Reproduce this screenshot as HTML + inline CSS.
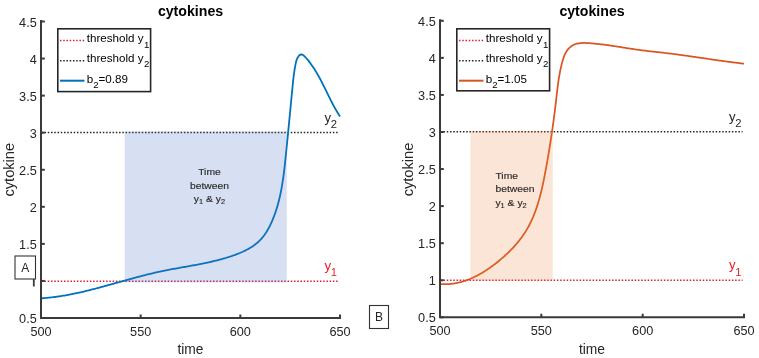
<!DOCTYPE html>
<html><head><meta charset="utf-8"><style>
html,body{margin:0;padding:0;background:#fff;width:759px;height:358px;overflow:hidden}
svg{display:block;will-change:transform;filter:blur(0.3px)}
text{font-family:"Liberation Sans",sans-serif}
</style></head><body>
<svg width="759" height="358" viewBox="0 0 759 358">
<rect width="759" height="358" fill="#fff"/>
<line x1="41.30" y1="281.34" x2="338.50" y2="281.34" stroke="#d8203e" stroke-width="1.5" stroke-dasharray="1.5 1.74"/>
<line x1="41.30" y1="132.49" x2="338.50" y2="132.49" stroke="#262626" stroke-width="1.5" stroke-dasharray="1.5 1.74"/>
<path d="M41.07,298.33 L42.31,298.24 L43.55,298.16 L44.78,298.06 L46.02,297.95 L47.25,297.84 L48.48,297.72 L49.72,297.59 L50.95,297.46 L52.18,297.31 L53.41,297.16 L54.64,297.01 L55.86,296.84 L57.09,296.67 L58.31,296.50 L59.54,296.32 L60.76,296.13 L61.99,295.93 L63.21,295.73 L64.43,295.52 L65.65,295.31 L66.87,295.09 L68.09,294.87 L69.31,294.64 L70.52,294.40 L71.74,294.16 L72.95,293.92 L74.17,293.67 L75.38,293.42 L76.60,293.16 L77.81,292.89 L79.02,292.63 L80.24,292.35 L81.45,292.08 L82.66,291.80 L83.87,291.51 L85.08,291.23 L86.29,290.94 L87.50,290.64 L88.71,290.34 L89.91,290.04 L91.12,289.74 L92.33,289.43 L93.54,289.12 L94.74,288.81 L95.95,288.50 L97.16,288.18 L98.36,287.86 L99.57,287.54 L100.77,287.21 L101.98,286.89 L103.18,286.56 L104.38,286.23 L105.59,285.90 L106.79,285.57 L108.00,285.24 L109.20,284.91 L110.40,284.57 L111.61,284.23 L112.81,283.90 L114.01,283.56 L115.21,283.22 L116.42,282.89 L117.62,282.55 L118.82,282.21 L120.03,281.87 L121.23,281.54 L122.43,281.20 L123.63,280.86 L124.84,280.53 L126.04,280.19 L127.24,279.86 L128.45,279.52 L129.65,279.19 L130.85,278.86 L132.06,278.53 L133.26,278.20 L134.47,277.87 L135.67,277.55 L136.88,277.23 L138.08,276.90 L139.29,276.59 L140.49,276.27 L141.70,275.95 L142.90,275.64 L144.11,275.33 L145.32,275.03 L146.52,274.72 L147.73,274.42 L148.94,274.13 L150.15,273.83 L151.36,273.54 L152.57,273.26 L153.78,272.97 L154.99,272.69 L156.20,272.42 L157.41,272.15 L158.63,271.88 L159.84,271.62 L161.05,271.36 L162.27,271.11 L163.48,270.86 L164.70,270.61 L165.91,270.37 L167.13,270.13 L168.34,269.90 L169.56,269.66 L170.78,269.43 L172.00,269.20 L173.22,268.98 L174.43,268.76 L175.65,268.53 L176.87,268.31 L178.09,268.09 L179.31,267.88 L180.53,267.66 L181.75,267.44 L182.97,267.22 L184.19,267.01 L185.41,266.79 L186.63,266.57 L187.85,266.36 L189.07,266.14 L190.29,265.92 L191.51,265.70 L192.73,265.47 L193.95,265.25 L195.17,265.02 L196.39,264.79 L197.61,264.56 L198.83,264.33 L200.05,264.09 L201.27,263.85 L202.49,263.61 L203.71,263.36 L204.93,263.11 L206.14,262.85 L207.36,262.59 L208.58,262.33 L209.79,262.06 L211.01,261.78 L212.22,261.50 L213.44,261.21 L214.65,260.92 L215.87,260.62 L217.08,260.32 L218.29,260.01 L219.50,259.69 L220.71,259.37 L221.92,259.04 L223.13,258.70 L224.34,258.35 L225.55,258.00 L226.76,257.63 L227.96,257.26 L229.17,256.88 L230.37,256.49 L231.57,256.09 L232.77,255.69 L233.97,255.27 L235.17,254.84 L236.36,254.40 L237.54,253.94 L238.72,253.48 L239.89,253.00 L241.05,252.50 L242.21,252.00 L243.35,251.47 L244.49,250.94 L245.61,250.38 L246.72,249.81 L247.82,249.22 L248.90,248.61 L249.97,247.98 L251.03,247.34 L252.06,246.67 L253.08,245.99 L254.08,245.28 L255.06,244.55 L256.03,243.80 L256.97,243.02 L257.89,242.22 L258.78,241.40 L259.66,240.56 L260.51,239.68 L261.33,238.79 L262.13,237.86 L262.91,236.92 L263.67,235.95 L264.40,234.97 L265.11,233.96 L265.80,232.94 L266.47,231.90 L267.13,230.84 L267.76,229.77 L268.37,228.68 L268.97,227.58 L269.55,226.47 L270.11,225.35 L270.65,224.22 L271.18,223.08 L271.70,221.93 L272.20,220.78 L272.69,219.62 L273.16,218.46 L273.62,217.29 L274.07,216.13 L274.51,214.95 L274.93,213.78 L275.34,212.60 L275.74,211.43 L276.13,210.24 L276.51,209.06 L276.88,207.87 L277.24,206.68 L277.58,205.49 L277.92,204.30 L278.25,203.10 L278.56,201.90 L278.87,200.70 L279.17,199.50 L279.46,198.29 L279.74,197.08 L280.01,195.87 L280.28,194.66 L280.54,193.45 L280.78,192.23 L281.03,191.02 L281.26,189.80 L281.49,188.58 L281.71,187.35 L281.92,186.13 L282.13,184.91 L282.33,183.68 L282.53,182.45 L282.72,181.22 L282.90,179.99 L283.08,178.76 L283.26,177.53 L283.43,176.29 L283.59,175.06 L283.75,173.82 L283.91,172.59 L284.06,171.35 L284.22,170.11 L284.36,168.87 L284.51,167.63 L284.65,166.39 L284.79,165.15 L284.93,163.91 L285.06,162.66 L285.19,161.42 L285.33,160.18 L285.46,158.93 L285.58,157.69 L285.71,156.45 L285.84,155.20 L285.97,153.96 L286.10,152.71 L286.22,151.47 L286.35,150.23 L286.47,148.98 L286.60,147.74 L286.73,146.49 L286.85,145.25 L286.98,144.01 L287.10,142.76 L287.22,141.52 L287.35,140.27 L287.47,139.03 L287.59,137.79 L287.72,136.55 L287.84,135.30 L287.96,134.06 L288.08,132.82 L288.20,131.58 L288.33,130.33 L288.45,129.09 L288.57,127.85 L288.69,126.61 L288.81,125.37 L288.93,124.13 L289.05,122.89 L289.17,121.65 L289.29,120.41 L289.41,119.18 L289.53,117.94 L289.65,116.70 L289.77,115.46 L289.89,114.23 L290.01,112.99 L290.13,111.76 L290.25,110.52 L290.37,109.29 L290.48,108.06 L290.60,106.83 L290.72,105.60 L290.84,104.37 L290.96,103.14 L291.08,101.91 L291.20,100.68 L291.32,99.45 L291.44,98.22 L291.56,97.00 L291.68,95.77 L291.79,94.55 L291.91,93.33 L292.03,92.11 L292.15,90.89 L292.27,89.67 L292.39,88.45 L292.51,87.23 L292.63,86.01 L292.75,84.80 L292.87,83.58 L293.00,82.36 L293.12,81.14 L293.25,79.92 L293.39,78.69 L293.53,77.46 L293.68,76.22 L293.83,74.97 L294.00,73.72 L294.17,72.45 L294.36,71.17 L294.55,69.88 L294.76,68.57 L294.99,67.25 L295.23,65.92 L295.48,64.56 L295.76,63.20 L296.08,61.85 L296.45,60.53 L296.89,59.25 L297.42,58.04 L298.04,56.91 L298.76,55.91 L299.55,55.11 L300.37,54.63 L301.22,54.49 L302.07,54.65 L302.93,55.06 L303.79,55.67 L304.65,56.44 L305.51,57.32 L306.34,58.26 L307.17,59.22 L307.97,60.19 L308.76,61.17 L309.53,62.15 L310.29,63.15 L311.03,64.16 L311.76,65.18 L312.48,66.20 L313.18,67.24 L313.87,68.28 L314.54,69.33 L315.21,70.39 L315.86,71.45 L316.51,72.52 L317.14,73.60 L317.77,74.68 L318.38,75.76 L318.99,76.86 L319.59,77.95 L320.18,79.05 L320.77,80.16 L321.35,81.27 L321.92,82.38 L322.49,83.49 L323.06,84.61 L323.62,85.73 L324.18,86.85 L324.73,87.97 L325.29,89.09 L325.84,90.22 L326.39,91.34 L326.94,92.46 L327.49,93.59 L328.04,94.71 L328.59,95.83 L329.15,96.95 L329.70,98.07 L330.26,99.18 L330.82,100.30 L331.39,101.41 L331.96,102.52 L332.53,103.62 L333.11,104.72 L333.70,105.81 L334.29,106.90 L334.89,107.99 L335.50,109.07 L336.11,110.14 L336.74,111.21 L337.37,112.27 L338.02,113.33 L338.67,114.37 L339.34,115.41 L340.01,116.44" fill="none" stroke="#0072BD" stroke-width="1.80" stroke-linejoin="round"/>
<rect x="124.70" y="131.49" width="162.10" height="150.91" fill="rgba(68,114,196,0.22)" />
<path d="M41.0,21.0 V318.0 H340.0" fill="none" stroke="#3a3a3a" stroke-width="2" stroke-linejoin="miter" stroke-linecap="square"/>
<line x1="41.00" y1="318.00" x2="41.00" y2="314.50" stroke="#3a3a3a" stroke-width="2"/>
<text transform="translate(41.00,335.80) scale(1.060,1)" text-anchor="middle" style="font-family:'Liberation Sans',sans-serif;font-size:12.00px;font-weight:normal" fill="#262626">500</text>
<line x1="140.67" y1="318.00" x2="140.67" y2="314.50" stroke="#3a3a3a" stroke-width="2"/>
<text transform="translate(140.67,335.80) scale(1.060,1)" text-anchor="middle" style="font-family:'Liberation Sans',sans-serif;font-size:12.00px;font-weight:normal" fill="#262626">550</text>
<line x1="240.33" y1="318.00" x2="240.33" y2="314.50" stroke="#3a3a3a" stroke-width="2"/>
<text transform="translate(240.33,335.80) scale(1.060,1)" text-anchor="middle" style="font-family:'Liberation Sans',sans-serif;font-size:12.00px;font-weight:normal" fill="#262626">600</text>
<line x1="340.00" y1="318.00" x2="340.00" y2="314.50" stroke="#3a3a3a" stroke-width="2"/>
<text transform="translate(340.00,335.80) scale(1.060,1)" text-anchor="middle" style="font-family:'Liberation Sans',sans-serif;font-size:12.00px;font-weight:normal" fill="#262626">650</text>
<line x1="41.00" y1="318.00" x2="44.80" y2="318.00" stroke="#3a3a3a" stroke-width="2"/>
<text transform="translate(36.80,323.00) scale(1.060,1)" text-anchor="end" style="font-family:'Liberation Sans',sans-serif;font-size:12.00px;font-weight:normal" fill="#262626">0.5</text>
<line x1="41.00" y1="280.94" x2="44.80" y2="280.94" stroke="#3a3a3a" stroke-width="2"/>
<rect x="32.9" y="279" width="1.8" height="7.5" fill="#3a3a3a"/>
<line x1="41.00" y1="243.88" x2="44.80" y2="243.88" stroke="#3a3a3a" stroke-width="2"/>
<text transform="translate(36.80,248.88) scale(1.060,1)" text-anchor="end" style="font-family:'Liberation Sans',sans-serif;font-size:12.00px;font-weight:normal" fill="#262626">1.5</text>
<line x1="41.00" y1="206.81" x2="44.80" y2="206.81" stroke="#3a3a3a" stroke-width="2"/>
<text transform="translate(36.80,211.81) scale(1.060,1)" text-anchor="end" style="font-family:'Liberation Sans',sans-serif;font-size:12.00px;font-weight:normal" fill="#262626">2</text>
<line x1="41.00" y1="169.75" x2="44.80" y2="169.75" stroke="#3a3a3a" stroke-width="2"/>
<text transform="translate(36.80,174.75) scale(1.060,1)" text-anchor="end" style="font-family:'Liberation Sans',sans-serif;font-size:12.00px;font-weight:normal" fill="#262626">2.5</text>
<line x1="41.00" y1="132.69" x2="44.80" y2="132.69" stroke="#3a3a3a" stroke-width="2"/>
<text transform="translate(36.80,137.69) scale(1.060,1)" text-anchor="end" style="font-family:'Liberation Sans',sans-serif;font-size:12.00px;font-weight:normal" fill="#262626">3</text>
<line x1="41.00" y1="95.62" x2="44.80" y2="95.62" stroke="#3a3a3a" stroke-width="2"/>
<text transform="translate(36.80,100.62) scale(1.060,1)" text-anchor="end" style="font-family:'Liberation Sans',sans-serif;font-size:12.00px;font-weight:normal" fill="#262626">3.5</text>
<line x1="41.00" y1="58.56" x2="44.80" y2="58.56" stroke="#3a3a3a" stroke-width="2"/>
<text transform="translate(36.80,63.56) scale(1.060,1)" text-anchor="end" style="font-family:'Liberation Sans',sans-serif;font-size:12.00px;font-weight:normal" fill="#262626">4</text>
<line x1="41.00" y1="21.50" x2="44.80" y2="21.50" stroke="#3a3a3a" stroke-width="2"/>
<text transform="translate(36.80,26.50) scale(1.060,1)" text-anchor="end" style="font-family:'Liberation Sans',sans-serif;font-size:12.00px;font-weight:normal" fill="#262626">4.5</text>
<text transform="translate(190.50,16.00) scale(1.010,1)" text-anchor="middle" style="font-family:'Liberation Sans',sans-serif;font-size:14.00px;font-weight:bold" fill="#000">cytokines</text>
<text transform="translate(190.50,354.30)" text-anchor="middle" style="font-family:'Liberation Sans',sans-serif;font-size:13.80px;font-weight:normal" fill="#262626">time</text>
<text transform="translate(14.20,169.75) rotate(-90) scale(1.045,1)" text-anchor="middle" style="font-family:'Liberation Sans',sans-serif;font-size:14.00px;font-weight:normal" fill="#262626">cytokine</text>
<text transform="translate(324.50,121.89) scale(1.080,1)" text-anchor="start" style="font-family:'Liberation Sans',sans-serif;font-size:12.20px;font-weight:normal" fill="#262626">y<tspan dx="-0.2" dy="6.1" style="font-size:10.4px">2</tspan></text>
<text transform="translate(324.50,270.14) scale(1.080,1)" text-anchor="start" style="font-family:'Liberation Sans',sans-serif;font-size:12.20px;font-weight:normal" fill="#e8202a">y<tspan dx="-0.2" dy="6.1" style="font-size:10.4px">1</tspan></text>
<rect x="57.80" y="28.80" width="92.80" height="62.80" fill="#fff" stroke="#262626" stroke-width="1.6"/>
<line x1="60.00" y1="40.40" x2="84.50" y2="40.40" stroke="#d8203e" stroke-width="1.5" stroke-dasharray="1.5 1.74"/>
<line x1="60.00" y1="60.70" x2="84.50" y2="60.70" stroke="#262626" stroke-width="1.5" stroke-dasharray="1.5 1.74"/>
<line x1="60.00" y1="80.70" x2="84.50" y2="80.70" stroke="#0072BD" stroke-width="2"/>
<text transform="translate(86.70,41.70) scale(1.040,1)" text-anchor="start" style="font-family:'Liberation Sans',sans-serif;font-size:11.20px;font-weight:normal" fill="#000">threshold y<tspan dx="0.3" dy="6.1" style="font-size:9.3px">1</tspan><tspan dy="-6.1"></tspan></text>
<text transform="translate(86.70,61.90) scale(1.040,1)" text-anchor="start" style="font-family:'Liberation Sans',sans-serif;font-size:11.20px;font-weight:normal" fill="#000">threshold y<tspan dx="0.3" dy="5.5" style="font-size:9.3px">2</tspan><tspan dy="-5.5"></tspan></text>
<text transform="translate(86.70,82.60) scale(1.040,1)" text-anchor="start" style="font-family:'Liberation Sans',sans-serif;font-size:11.20px;font-weight:normal" fill="#000">b<tspan dx="0.0" dy="5.7" style="font-size:9.3px">2</tspan><tspan dy="-5.7">=0.89</tspan></text>
<line x1="440.30" y1="280.24" x2="742.50" y2="280.24" stroke="#d8203e" stroke-width="1.5" stroke-dasharray="1.5 1.74"/>
<line x1="440.30" y1="131.79" x2="742.50" y2="131.79" stroke="#262626" stroke-width="1.5" stroke-dasharray="1.5 1.74"/>
<path d="M440.44,284.09 L441.67,284.16 L442.90,284.20 L444.12,284.22 L445.33,284.22 L446.53,284.19 L447.73,284.14 L448.93,284.07 L450.11,283.97 L451.29,283.85 L452.47,283.71 L453.64,283.55 L454.80,283.37 L455.96,283.16 L457.11,282.93 L458.25,282.69 L459.39,282.42 L460.52,282.14 L461.65,281.83 L462.77,281.51 L463.88,281.17 L464.99,280.81 L466.10,280.43 L467.19,280.04 L468.29,279.63 L469.37,279.20 L470.45,278.75 L471.53,278.29 L472.60,277.82 L473.66,277.33 L474.72,276.82 L475.77,276.30 L476.82,275.77 L477.86,275.22 L478.90,274.66 L479.93,274.09 L480.95,273.50 L481.97,272.90 L482.98,272.29 L483.99,271.67 L485.00,271.04 L486.00,270.39 L486.99,269.74 L487.98,269.08 L488.96,268.40 L489.94,267.72 L490.91,267.03 L491.88,266.33 L492.84,265.62 L493.79,264.90 L494.75,264.18 L495.69,263.45 L496.63,262.71 L497.57,261.96 L498.50,261.21 L499.43,260.45 L500.35,259.69 L501.26,258.92 L502.17,258.14 L503.07,257.36 L503.97,256.56 L504.86,255.77 L505.74,254.96 L506.61,254.15 L507.48,253.33 L508.34,252.51 L509.19,251.67 L510.03,250.84 L510.87,249.99 L511.70,249.14 L512.51,248.28 L513.32,247.41 L514.12,246.54 L514.91,245.66 L515.70,244.77 L516.47,243.88 L517.23,242.97 L517.98,242.07 L518.73,241.15 L519.46,240.23 L520.18,239.30 L520.89,238.36 L521.59,237.42 L522.28,236.47 L522.95,235.51 L523.62,234.54 L524.27,233.57 L524.91,232.59 L525.54,231.60 L526.15,230.61 L526.76,229.61 L527.35,228.60 L527.92,227.58 L528.49,226.56 L529.04,225.53 L529.59,224.49 L530.11,223.45 L530.63,222.40 L531.14,221.35 L531.64,220.28 L532.12,219.22 L532.59,218.14 L533.06,217.07 L533.51,215.98 L533.96,214.89 L534.39,213.80 L534.81,212.70 L535.23,211.60 L535.63,210.49 L536.03,209.38 L536.42,208.26 L536.80,207.14 L537.17,206.01 L537.53,204.88 L537.89,203.75 L538.23,202.61 L538.57,201.47 L538.91,200.33 L539.23,199.19 L539.55,198.04 L539.86,196.88 L540.17,195.73 L540.47,194.57 L540.76,193.41 L541.05,192.25 L541.33,191.09 L541.61,189.92 L541.88,188.76 L542.15,187.59 L542.41,186.42 L542.67,185.25 L542.92,184.08 L543.17,182.90 L543.41,181.73 L543.65,180.55 L543.89,179.38 L544.13,178.20 L544.36,177.03 L544.59,175.85 L544.81,174.68 L545.03,173.50 L545.26,172.33 L545.48,171.15 L545.69,169.98 L545.91,168.81 L546.12,167.64 L546.34,166.46 L546.55,165.30 L546.76,164.13 L546.97,162.96 L547.17,161.79 L547.38,160.62 L547.58,159.46 L547.78,158.29 L547.98,157.13 L548.18,155.96 L548.38,154.80 L548.58,153.63 L548.77,152.47 L548.97,151.31 L549.16,150.15 L549.35,148.99 L549.54,147.82 L549.73,146.66 L549.91,145.50 L550.10,144.34 L550.28,143.18 L550.46,142.02 L550.64,140.86 L550.82,139.70 L551.00,138.54 L551.18,137.38 L551.35,136.22 L551.52,135.06 L551.70,133.90 L551.87,132.74 L552.04,131.58 L552.21,130.41 L552.37,129.25 L552.54,128.09 L552.70,126.93 L552.86,125.77 L553.03,124.61 L553.19,123.44 L553.35,122.28 L553.50,121.12 L553.66,119.95 L553.82,118.79 L553.97,117.62 L554.12,116.45 L554.27,115.29 L554.42,114.12 L554.57,112.95 L554.72,111.78 L554.87,110.61 L555.01,109.44 L555.16,108.27 L555.30,107.10 L555.44,105.93 L555.58,104.75 L555.72,103.58 L555.86,102.40 L555.99,101.23 L556.13,100.05 L556.26,98.87 L556.40,97.69 L556.53,96.51 L556.66,95.32 L556.80,94.14 L556.93,92.96 L557.07,91.77 L557.21,90.59 L557.35,89.40 L557.50,88.22 L557.64,87.03 L557.79,85.84 L557.95,84.66 L558.11,83.47 L558.27,82.28 L558.44,81.10 L558.62,79.91 L558.80,78.73 L558.99,77.54 L559.19,76.35 L559.39,75.17 L559.60,73.98 L559.82,72.80 L560.05,71.62 L560.29,70.43 L560.54,69.25 L560.79,68.07 L561.06,66.89 L561.34,65.71 L561.63,64.54 L561.94,63.36 L562.25,62.18 L562.58,61.01 L562.92,59.84 L563.28,58.68 L563.67,57.53 L564.07,56.40 L564.51,55.30 L564.98,54.22 L565.49,53.17 L566.03,52.16 L566.61,51.20 L567.25,50.28 L567.92,49.40 L568.64,48.58 L569.40,47.81 L570.20,47.09 L571.05,46.43 L571.93,45.82 L572.85,45.27 L573.81,44.78 L574.80,44.36 L575.83,43.99 L576.89,43.69 L577.99,43.44 L579.11,43.26 L580.26,43.12 L581.43,43.03 L582.62,42.97 L583.82,42.96 L585.04,42.97 L586.26,43.01 L587.49,43.07 L588.72,43.14 L589.95,43.23 L591.17,43.32 L592.39,43.42 L593.61,43.53 L594.83,43.64 L596.04,43.76 L597.25,43.88 L598.45,44.01 L599.65,44.15 L600.85,44.29 L602.05,44.43 L603.24,44.58 L604.43,44.73 L605.62,44.89 L606.81,45.05 L607.99,45.21 L609.17,45.38 L610.35,45.55 L611.53,45.72 L612.71,45.90 L613.88,46.07 L615.06,46.25 L616.23,46.43 L617.40,46.61 L618.57,46.79 L619.73,46.98 L620.90,47.16 L622.07,47.35 L623.23,47.53 L624.40,47.72 L625.56,47.90 L626.73,48.08 L627.89,48.27 L629.05,48.45 L630.22,48.63 L631.38,48.81 L632.54,48.98 L633.71,49.16 L634.87,49.33 L636.04,49.50 L637.20,49.67 L638.37,49.83 L639.54,49.99 L640.71,50.15 L641.87,50.30 L643.04,50.45 L644.22,50.60 L645.39,50.74 L646.56,50.88 L647.74,51.02 L648.91,51.16 L650.09,51.29 L651.26,51.42 L652.44,51.56 L653.61,51.69 L654.79,51.82 L655.97,51.95 L657.15,52.08 L658.32,52.20 L659.50,52.33 L660.68,52.47 L661.86,52.60 L663.03,52.73 L664.21,52.86 L665.39,53.00 L666.57,53.14 L667.74,53.28 L668.92,53.42 L670.10,53.56 L671.27,53.71 L672.45,53.85 L673.62,54.00 L674.80,54.16 L675.97,54.31 L677.15,54.46 L678.32,54.62 L679.50,54.78 L680.67,54.94 L681.84,55.10 L683.02,55.26 L684.19,55.42 L685.36,55.59 L686.54,55.75 L687.71,55.92 L688.88,56.09 L690.06,56.26 L691.23,56.43 L692.40,56.60 L693.57,56.77 L694.74,56.94 L695.92,57.11 L697.09,57.28 L698.26,57.45 L699.43,57.63 L700.60,57.80 L701.77,57.97 L702.95,58.14 L704.12,58.32 L705.29,58.49 L706.46,58.66 L707.63,58.83 L708.80,59.01 L709.98,59.18 L711.15,59.35 L712.32,59.52 L713.49,59.69 L714.66,59.86 L715.84,60.03 L717.01,60.20 L718.18,60.36 L719.35,60.53 L720.53,60.69 L721.70,60.86 L722.87,61.02 L724.04,61.18 L725.22,61.34 L726.39,61.50 L727.56,61.66 L728.74,61.81 L729.91,61.97 L731.09,62.12 L732.26,62.27 L733.43,62.42 L734.61,62.56 L735.78,62.71 L736.96,62.85 L738.14,62.99 L739.31,63.13 L740.49,63.26 L741.66,63.40 L742.84,63.53 L744.02,63.65" fill="none" stroke="#DA5620" stroke-width="1.75" stroke-linejoin="round"/>
<rect x="470.40" y="130.79" width="82.40" height="150.01" fill="rgba(237,125,49,0.2)" />
<path d="M440.0,20.3 V317.3 H744.0" fill="none" stroke="#3a3a3a" stroke-width="2" stroke-linejoin="miter" stroke-linecap="square"/>
<line x1="440.00" y1="317.30" x2="440.00" y2="313.80" stroke="#3a3a3a" stroke-width="2"/>
<text transform="translate(440.00,335.10) scale(1.060,1)" text-anchor="middle" style="font-family:'Liberation Sans',sans-serif;font-size:12.00px;font-weight:normal" fill="#262626">500</text>
<line x1="541.33" y1="317.30" x2="541.33" y2="313.80" stroke="#3a3a3a" stroke-width="2"/>
<text transform="translate(541.33,335.10) scale(1.060,1)" text-anchor="middle" style="font-family:'Liberation Sans',sans-serif;font-size:12.00px;font-weight:normal" fill="#262626">550</text>
<line x1="642.67" y1="317.30" x2="642.67" y2="313.80" stroke="#3a3a3a" stroke-width="2"/>
<text transform="translate(642.67,335.10) scale(1.060,1)" text-anchor="middle" style="font-family:'Liberation Sans',sans-serif;font-size:12.00px;font-weight:normal" fill="#262626">600</text>
<line x1="744.00" y1="317.30" x2="744.00" y2="313.80" stroke="#3a3a3a" stroke-width="2"/>
<text transform="translate(744.00,335.10) scale(1.060,1)" text-anchor="middle" style="font-family:'Liberation Sans',sans-serif;font-size:12.00px;font-weight:normal" fill="#262626">650</text>
<line x1="440.00" y1="317.30" x2="443.80" y2="317.30" stroke="#3a3a3a" stroke-width="2"/>
<text transform="translate(435.80,322.30) scale(1.060,1)" text-anchor="end" style="font-family:'Liberation Sans',sans-serif;font-size:12.00px;font-weight:normal" fill="#262626">0.5</text>
<line x1="440.00" y1="280.24" x2="443.80" y2="280.24" stroke="#3a3a3a" stroke-width="2"/>
<text transform="translate(435.80,285.24) scale(1.060,1)" text-anchor="end" style="font-family:'Liberation Sans',sans-serif;font-size:12.00px;font-weight:normal" fill="#262626">1</text>
<line x1="440.00" y1="243.18" x2="443.80" y2="243.18" stroke="#3a3a3a" stroke-width="2"/>
<text transform="translate(435.80,248.18) scale(1.060,1)" text-anchor="end" style="font-family:'Liberation Sans',sans-serif;font-size:12.00px;font-weight:normal" fill="#262626">1.5</text>
<line x1="440.00" y1="206.11" x2="443.80" y2="206.11" stroke="#3a3a3a" stroke-width="2"/>
<text transform="translate(435.80,211.11) scale(1.060,1)" text-anchor="end" style="font-family:'Liberation Sans',sans-serif;font-size:12.00px;font-weight:normal" fill="#262626">2</text>
<line x1="440.00" y1="169.05" x2="443.80" y2="169.05" stroke="#3a3a3a" stroke-width="2"/>
<text transform="translate(435.80,174.05) scale(1.060,1)" text-anchor="end" style="font-family:'Liberation Sans',sans-serif;font-size:12.00px;font-weight:normal" fill="#262626">2.5</text>
<line x1="440.00" y1="131.99" x2="443.80" y2="131.99" stroke="#3a3a3a" stroke-width="2"/>
<text transform="translate(435.80,136.99) scale(1.060,1)" text-anchor="end" style="font-family:'Liberation Sans',sans-serif;font-size:12.00px;font-weight:normal" fill="#262626">3</text>
<line x1="440.00" y1="94.93" x2="443.80" y2="94.93" stroke="#3a3a3a" stroke-width="2"/>
<text transform="translate(435.80,99.93) scale(1.060,1)" text-anchor="end" style="font-family:'Liberation Sans',sans-serif;font-size:12.00px;font-weight:normal" fill="#262626">3.5</text>
<line x1="440.00" y1="57.86" x2="443.80" y2="57.86" stroke="#3a3a3a" stroke-width="2"/>
<text transform="translate(435.80,62.86) scale(1.060,1)" text-anchor="end" style="font-family:'Liberation Sans',sans-serif;font-size:12.00px;font-weight:normal" fill="#262626">4</text>
<line x1="440.00" y1="20.80" x2="443.80" y2="20.80" stroke="#3a3a3a" stroke-width="2"/>
<text transform="translate(435.80,25.80) scale(1.060,1)" text-anchor="end" style="font-family:'Liberation Sans',sans-serif;font-size:12.00px;font-weight:normal" fill="#262626">4.5</text>
<text transform="translate(592.00,16.00) scale(1.010,1)" text-anchor="middle" style="font-family:'Liberation Sans',sans-serif;font-size:14.00px;font-weight:bold" fill="#000">cytokines</text>
<text transform="translate(592.00,354.30)" text-anchor="middle" style="font-family:'Liberation Sans',sans-serif;font-size:13.80px;font-weight:normal" fill="#262626">time</text>
<text transform="translate(412.50,169.55) rotate(-90) scale(1.045,1)" text-anchor="middle" style="font-family:'Liberation Sans',sans-serif;font-size:14.00px;font-weight:normal" fill="#262626">cytokine</text>
<text transform="translate(729.00,121.19) scale(1.080,1)" text-anchor="start" style="font-family:'Liberation Sans',sans-serif;font-size:12.20px;font-weight:normal" fill="#262626">y<tspan dx="-0.2" dy="6.1" style="font-size:10.4px">2</tspan></text>
<text transform="translate(729.00,269.44) scale(1.080,1)" text-anchor="start" style="font-family:'Liberation Sans',sans-serif;font-size:12.20px;font-weight:normal" fill="#e8202a">y<tspan dx="-0.2" dy="6.1" style="font-size:10.4px">1</tspan></text>
<rect x="456.80" y="28.80" width="92.80" height="62.00" fill="#fff" stroke="#262626" stroke-width="1.6"/>
<line x1="459.00" y1="40.40" x2="483.50" y2="40.40" stroke="#d8203e" stroke-width="1.5" stroke-dasharray="1.5 1.74"/>
<line x1="459.00" y1="60.70" x2="483.50" y2="60.70" stroke="#262626" stroke-width="1.5" stroke-dasharray="1.5 1.74"/>
<line x1="459.00" y1="80.70" x2="483.50" y2="80.70" stroke="#DA5620" stroke-width="2"/>
<text transform="translate(485.70,41.70) scale(1.040,1)" text-anchor="start" style="font-family:'Liberation Sans',sans-serif;font-size:11.20px;font-weight:normal" fill="#000">threshold y<tspan dx="0.3" dy="6.1" style="font-size:9.3px">1</tspan><tspan dy="-6.1"></tspan></text>
<text transform="translate(485.70,61.90) scale(1.040,1)" text-anchor="start" style="font-family:'Liberation Sans',sans-serif;font-size:11.20px;font-weight:normal" fill="#000">threshold y<tspan dx="0.3" dy="5.5" style="font-size:9.3px">2</tspan><tspan dy="-5.5"></tspan></text>
<text transform="translate(485.70,82.60) scale(1.040,1)" text-anchor="start" style="font-family:'Liberation Sans',sans-serif;font-size:11.20px;font-weight:normal" fill="#000">b<tspan dx="0.0" dy="5.7" style="font-size:9.3px">2</tspan><tspan dy="-5.7">=1.05</tspan></text>
<rect x="15.00" y="256.00" width="20.50" height="23.00" fill="#fff" stroke="#333" stroke-width="1.1"/><text transform="translate(25.25,271.80)" text-anchor="middle" style="font-family:'Liberation Sans',sans-serif;font-size:12.00px;font-weight:normal" fill="#262626">A</text>
<rect x="369.50" y="305.50" width="19.00" height="23.00" fill="#fff" stroke="#333" stroke-width="1.1"/><text transform="translate(379.00,321.30)" text-anchor="middle" style="font-family:'Liberation Sans',sans-serif;font-size:12.00px;font-weight:normal" fill="#262626">B</text>
<text transform="translate(209.50,175.00) scale(1.060,1)" text-anchor="middle" style="font-family:'Liberation Sans',sans-serif;font-size:9.80px;font-weight:normal" fill="#2a2a2a" stroke="#2a2a2a" stroke-width="0.15">Time</text><text transform="translate(209.50,188.80) scale(1.060,1)" text-anchor="middle" style="font-family:'Liberation Sans',sans-serif;font-size:9.80px;font-weight:normal" fill="#2a2a2a" stroke="#2a2a2a" stroke-width="0.15">between</text><text transform="translate(209.50,202.20) scale(1.060,1)" text-anchor="middle" style="font-family:'Liberation Sans',sans-serif;font-size:9.80px;font-weight:normal" fill="#2a2a2a" stroke="#2a2a2a" stroke-width="0.15">y<tspan dy="1.5" style="font-size:7px">1</tspan><tspan dy="-1.5"> &amp; y</tspan><tspan dy="1.5" style="font-size:7px">2</tspan></text>
<text transform="translate(495.40,178.80) scale(1.060,1)" text-anchor="start" style="font-family:'Liberation Sans',sans-serif;font-size:9.80px;font-weight:normal" fill="#2a2a2a" stroke="#2a2a2a" stroke-width="0.15">Time</text><text transform="translate(495.40,192.30) scale(1.060,1)" text-anchor="start" style="font-family:'Liberation Sans',sans-serif;font-size:9.80px;font-weight:normal" fill="#2a2a2a" stroke="#2a2a2a" stroke-width="0.15">between</text><text transform="translate(495.40,206.00) scale(1.060,1)" text-anchor="start" style="font-family:'Liberation Sans',sans-serif;font-size:9.80px;font-weight:normal" fill="#2a2a2a" stroke="#2a2a2a" stroke-width="0.15">y<tspan dy="1.5" style="font-size:7px">1</tspan><tspan dy="-1.5"> &amp; y</tspan><tspan dy="1.5" style="font-size:7px">2</tspan></text>
</svg>
</body></html>
